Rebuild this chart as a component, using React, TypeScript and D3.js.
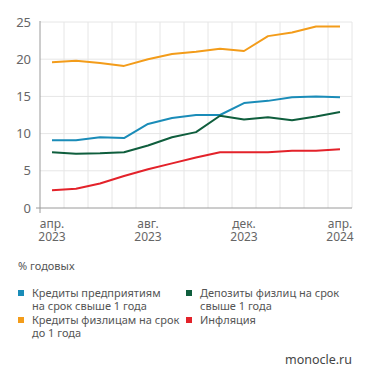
import * as d3 from "d3";

const months = ["апр.", "май", "июн.", "июл.", "авг.", "сен.", "окт.", "ноя.", "дек.", "янв.", "фев.", "мар.", "апр."];
const years = ["2023", "2023", "2023", "2023", "2023", "2023", "2023", "2023", "2023", "2024", "2024", "2024", "2024"];
const labelIdx = [0, 4, 8, 12];
const yTicks = [0, 5, 10, 15, 20, 25];

const corpCredit = [9.1, 9.1, 9.5, 9.4, 11.3, 12.1, 12.5, 12.5, 14.1, 14.4, 14.9, 15.0, 14.9];
const retailCredit = [19.6, 19.8, 19.5, 19.1, 20.0, 20.7, 21.0, 21.4, 21.1, 23.1, 23.6, 24.4, 24.4];
const deposits = [7.5, 7.3, 7.35, 7.5, 8.4, 9.5, 10.2, 12.4, 11.9, 12.2, 11.8, 12.3, 12.9];
const inflation = [2.4, 2.6, 3.3, 4.3, 5.2, 6.0, 6.8, 7.5, 7.5, 7.5, 7.7, 7.7, 7.9];

const series = [
  { name: "Кредиты предприятиям|на срок свыше 1 года", values: corpCredit, color: "#1a8cb8" },
  { name: "Кредиты физлицам на срок|до 1 года", values: retailCredit, color: "#f39c1a" },
  { name: "Депозиты физлиц на срок|свыше 1 года", values: deposits, color: "#0f5e3d" },
  { name: "Инфляция", values: inflation, color: "#e3222a" },
];

const W = 371;
const H = 383;
const m = { left: 40, right: 19, top: 22, bottom: 175 };

export default function App() {
  const x = d3
    .scaleBand<number>()
    .domain(d3.range(months.length))
    .range([m.left, W - m.right]);
  const y = d3.scaleLinear().domain([0, 25]).range([H - m.bottom, m.top]);
  const cx = (i: number) => (x(i) ?? 0) + x.bandwidth() / 2;

  const line = d3
    .line<number>()
    .x((_, i) => cx(i))
    .y((d) => y(d));

  const font = "'Noto Sans', sans-serif";
  const legendPos = [
    { x: 18, y: 293 },
    { x: 18, y: 320 },
    { x: 186, y: 293 },
    { x: 186, y: 320 },
  ];

  return (
    <div style={{ position: "fixed", left: 0, top: 0 }}>
      <svg width={W} height={H} style={{ display: "block", background: "#fff" }} fontFamily={font}>
        {/* grid */}
        {yTicks.slice(1).map((t) => (
          <line key={"h" + t} x1={m.left} x2={W - m.right} y1={y(t)} y2={y(t)} stroke="#e6e6e6" />
        ))}
        {d3.range(1, months.length + 1).map((i) => {
          const gx = i < months.length ? (x(i) ?? 0) : x.range()[1];
          return <line key={"v" + i} x1={gx} x2={gx} y1={y(25)} y2={y(0)} stroke="#e6e6e6" />;
        })}
        {/* axes */}
        <line x1={m.left} x2={m.left} y1={y(25) - 1} y2={y(0) + 5} stroke="#9a9a9a" />
        <line x1={m.left - 4} x2={W - m.right} y1={y(0)} y2={y(0)} stroke="#9a9a9a" />
        {yTicks.map((t) => (
          <text key={t} x={31} y={y(t)} dy="0.35em" textAnchor="end" fontSize={13} fill="#666">
            {t}
          </text>
        ))}
        {labelIdx.map((i) => (
          <text key={i} x={cx(i)} y={224} fill="#666" fontSize={12} textAnchor="middle">
            <tspan x={cx(i)} dy="0.35em">{months[i]}</tspan>
            <tspan x={cx(i)} dy={13}>{years[i]}</tspan>
          </text>
        ))}
        {/* lines */}
        {series.map((s) => (
          <path key={s.name} d={line(s.values) ?? ""} fill="none" stroke={s.color} strokeWidth={2} strokeLinejoin="round" />
        ))}
        {/* legend */}
        <text x={18} y={266} dy="0.35em" fontSize={11} fill="#555">% годовых</text>
        {series.map((s, k) => {
          const p = legendPos[k];
          return (
            <g key={s.name}>
              <rect x={p.x} y={p.y - 3} width={6} height={6} fill={s.color} />
              <text x={p.x + 14} y={p.y} fontSize={11} fill="#555">
                {s.name.split("|").map((ln, j) => (
                  <tspan key={j} x={p.x + 14} dy={j === 0 ? "0.35em" : 13}>
                    {ln}
                  </tspan>
                ))}
              </text>
            </g>
          );
        })}
        <text x={352} y={360} dy="0.35em" textAnchor="end" fontSize={12.5} fill="#444">monocle.ru</text>
      </svg>
    </div>
  );
}
